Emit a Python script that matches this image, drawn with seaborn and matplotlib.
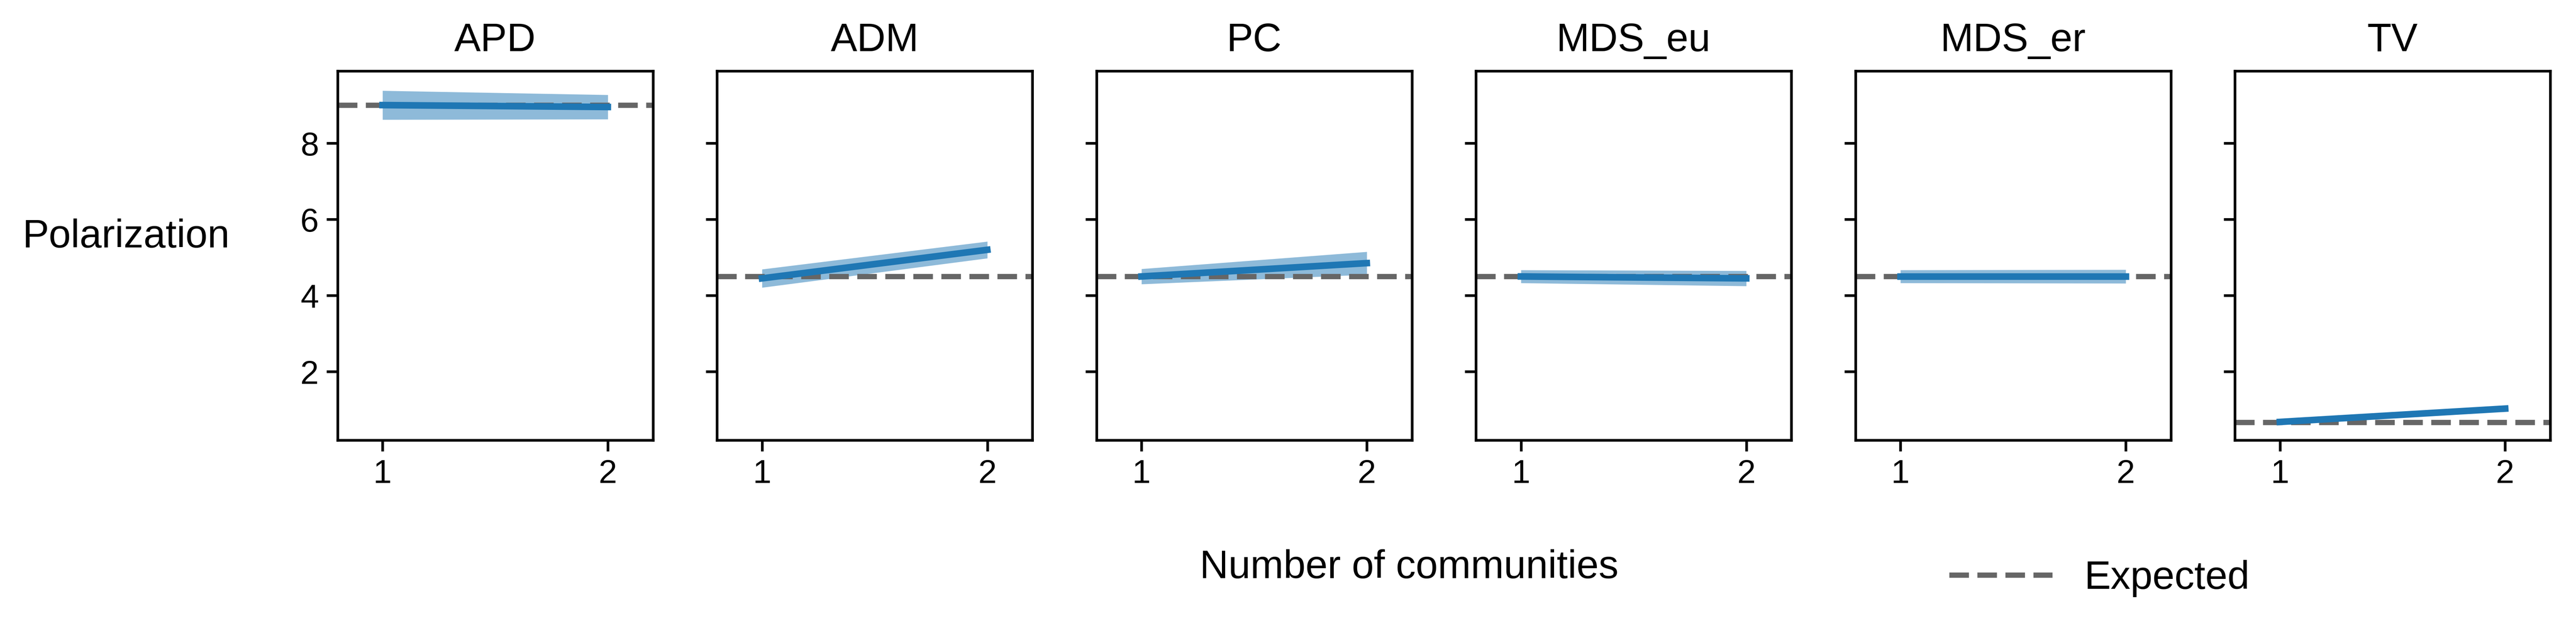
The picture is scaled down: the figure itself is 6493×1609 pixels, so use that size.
import pandas as pd
import matplotlib.pyplot as plt
import seaborn as sns

measures = ["APD", "ADM", "PC", "MDS_eu", "MDS_er", "TV"]
communities = [1, 2]
mean_vals = [[9.0, 8.95], [4.45, 5.2], [4.5, 4.85], [4.5, 4.45], [4.5, 4.5], [0.68, 1.03]]
ci_half = [[0.38, 0.32], [0.24, 0.22], [0.2, 0.3], [0.17, 0.2], [0.17, 0.18], [0.02, 0.02]]
expected = [9.0, 4.5, 4.5, 4.5, 4.5, 0.67]

plt.rcParams['font.family'] = ['Liberation Sans', 'DejaVu Sans']
plt.rcParams['font.size'] = 16
plt.rcParams['axes.linewidth'] = 1.2
plt.rcParams['xtick.major.width'] = 1.2
plt.rcParams['ytick.major.width'] = 1.2
plt.rcParams['xtick.major.size'] = 5
plt.rcParams['ytick.major.size'] = 5

# build long-form table: lower, mean, upper per point
rows = []
for m, mv, ch in zip(measures, mean_vals, ci_half):
    for x, v, h in zip(communities, mv, ch):
        for val in (v - h, v, v + h):
            rows.append({"measure": m, "k": x, "pol": val})
df = pd.DataFrame(rows)

fig, axes = plt.subplots(1, 6, figsize=(16.2325, 4.0225), dpi=400, sharey=True)
fig.subplots_adjust(left=0.131, right=0.99, top=0.889, bottom=0.31, wspace=0.203)

for ax, m, e in zip(axes, measures, expected):
    sub = df[df["measure"] == m]
    sns.lineplot(data=sub, x="k", y="pol", ax=ax, color="#1f77b4", linewidth=3,
                 errorbar=lambda s: (s.min(), s.max()),
                 err_kws={"alpha": 0.5, "linewidth": 0})
    ax.axhline(e, color="#666666", linestyle="--", linewidth=2.4, zorder=1,
               label="Expected")
    ax.set_title(m, fontsize=18, pad=9)
    ax.set_xlim(0.8, 2.2)
    ax.set_xticks([1, 2])
    ax.tick_params(labelsize=15)
    ax.set_xlabel("")
    ax.set_ylabel("")

axes[0].set_ylim(0.2, 9.9)
axes[0].set_yticks([2, 4, 6, 8])
axes[0].set_ylabel("Polarization", rotation=0, fontsize=18, ha="center", va="center")
axes[0].yaxis.set_label_coords(-0.67, 0.55)

fig.text(0.547, 0.11, "Number of communities", ha="center", va="center", fontsize=18)
handles, labels = axes[0].get_legend_handles_labels()
fig.legend(handles[-1:], labels[-1:], loc="center", bbox_to_anchor=(0.815, 0.093),
           frameon=False, fontsize=18, handlelength=2.6)

plt.savefig("out.png", dpi=400)
